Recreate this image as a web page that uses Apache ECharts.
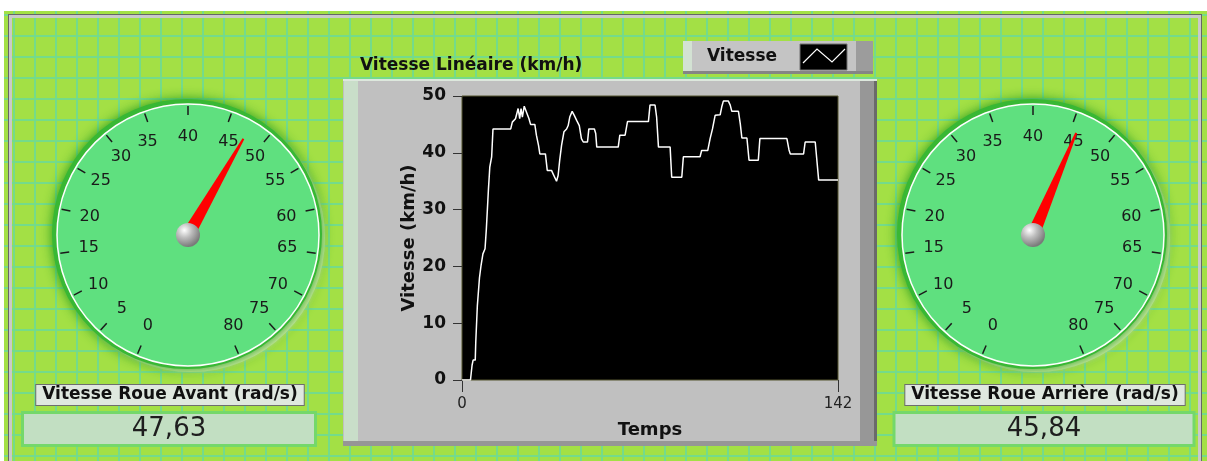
<!DOCTYPE html>
<html>
<head>
<meta charset="utf-8">
<title>Vitesse</title>
<script src="https://cdn.jsdelivr.net/npm/echarts@6/dist/echarts.min.js"></script>
<style>
    body {margin: 0; background: #fff;}
    #panel {
        position: absolute; left: 4px; top: 11px; width: 1203px; height: 450px;
        background-color: #a3e045;
        background-image: linear-gradient(to right, #74db8a 2px, transparent 2px),
                          linear-gradient(to bottom, #74db8a 2px, transparent 2px);
        background-size: 21px 21px;
        background-position: 9px 3px;
    }
    #frame {
        position: absolute; left: 8px; top: 14px; width: 1192px; height: 460px;
        border: 1px solid #666;
        box-shadow: inset 3px 3px 0 #c9c9c9, inset -3px 0 0 #c9c9c9;
    }
    #main {position: absolute; left: 0; top: 0; width: 1207px; height: 461px;}
</style>
</head>
<body>
<div id="panel"></div>
<div id="frame"></div>
<div id="main"></div>
<script type="text/javascript">
    // courbe vitesse linéaire
    var temps = [
        0, 3.2, 3.8, 4.2, 5.0, 5.2, 5.8, 6.6, 7.2, 7.9,
        8.7, 9.2, 10.0, 10.5, 11.2, 11.7, 18.4, 19.0, 20.2, 21.2,
        21.8, 22.3, 22.8, 23.5, 24.1, 25.3, 25.9, 27.5, 28.1, 28.9,
        29.4, 31.5, 32.2, 33.8, 34.4, 35.7, 36.3, 36.9, 37.6, 38.5,
        39.5, 40.1, 40.7, 41.6, 42.4, 43.3, 44.3, 45.1, 45.8, 47.4,
        47.9, 50.0, 50.5, 50.9, 59.0, 59.6, 61.6, 62.5, 70.4, 71.0,
        72.9, 73.5, 74.2, 78.6, 79.2, 83.0, 83.6, 89.9, 90.5, 92.8,
        93.7, 94.6, 95.6, 97.5, 98.1, 98.7, 100.6, 101.3, 101.9, 104.4,
        105.1, 105.7, 107.6, 108.4, 111.9, 112.5, 122.7, 123.5, 124.0, 129.0,
        129.6, 133.4, 134.7, 142
    ];
    var vitesse = [
        0, 0, 2.6, 3.5, 3.5, 6.7, 13.1, 18.0, 20.2, 22.2,
        23.1, 26.6, 33.7, 37.5, 39.3, 44.2, 44.2, 45.4, 46.0, 47.8,
        46.0, 47.8, 46.3, 48.2, 48.5, 46.0, 45.0, 45.0, 43.1, 41.3,
        39.8, 39.8, 36.9, 36.9, 36.3, 35.0, 36.0, 38.7, 41.3, 43.7,
        44.2, 44.8, 46.3, 47.3, 46.6, 45.7, 44.8, 42.5, 41.9, 41.9,
        44.2, 44.2, 43.4, 41.0, 41.0, 43.1, 43.1, 45.5, 45.5, 48.4,
        48.4, 46.3, 41.0, 41.0, 35.7, 35.7, 39.3, 39.3, 40.4, 40.4,
        42.5, 44.2, 46.6, 46.7, 48.1, 49.1, 49.1, 48.4, 47.3, 47.3,
        45.1, 42.6, 42.6, 38.7, 38.7, 42.5, 42.5, 40.5, 39.8, 39.8,
        41.9, 41.9, 35.2, 35.2
    ];
    // compteurs
    var nomsRoues = ['Vitesse Roue Avant (rad/s)', 'Vitesse Roue Arrière (rad/s)'];
    var valeursRoues = [47.63, 45.84];
    var echelleMin = 0, echelleMax = 80, echellePas = 5;

    var font = 'DejaVu Sans';
    var R = 131;
    var angleDebut = 247, angleFin = -67;
    var centres = [[188, 235], [1033, 235]];
    var titreOffset = [[-18, 160], [12, 160]];
    var valeurOffset = [[-19, 194], [11, 194]];
    var valeurLargeur = [290, 297];

    var points = [];
    for (var i = 0; i < temps.length; i++) {
        points.push([temps[i], vitesse[i]]);
    }

    var chart = echarts.init(document.getElementById('main'));

    var graphics = [
        // cadre du graphe
        {type: 'rect', z: -10, shape: {x: 343, y: 79, width: 534, height: 367}, style: {fill: '#c0c0c0'}},
        {type: 'rect', z: -9, shape: {x: 343, y: 79, width: 534, height: 2}, style: {fill: '#dde8dd'}},
        {type: 'rect', z: -9, shape: {x: 344, y: 81, width: 14, height: 362}, style: {fill: '#c9dec9'}},
        {type: 'rect', z: -9, shape: {x: 860, y: 81, width: 17, height: 365}, style: {fill: '#979797'}},
        {type: 'rect', z: -9, shape: {x: 874, y: 81, width: 3, height: 365}, style: {fill: '#6a6a6a'}},
        {type: 'rect', z: -9, shape: {x: 343, y: 441, width: 534, height: 5}, style: {fill: '#969696'}},
        // légende
        {type: 'rect', z: -10, shape: {x: 683, y: 41, width: 190, height: 33}, style: {fill: '#c4c4c4'}},
        {type: 'rect', z: -9, shape: {x: 683, y: 41, width: 9, height: 31}, style: {fill: '#d3e2d3'}},
        {type: 'rect', z: -9, shape: {x: 856, y: 41, width: 17, height: 33}, style: {fill: '#9c9c9c'}},
        {type: 'rect', z: -9, shape: {x: 683, y: 71, width: 190, height: 3}, style: {fill: '#858585'}},
        {type: 'text', z: 5, x: 707, y: 57, style: {text: 'Vitesse', font: 'bold 17px "DejaVu Sans"', fill: '#111', verticalAlign: 'middle'}},
        {type: 'rect', z: 5, shape: {x: 800, y: 44, width: 47, height: 26}, style: {fill: '#000', stroke: '#707070', lineWidth: 1}},
        {type: 'polyline', z: 6, shape: {points: [[803, 63], [817, 49], [832, 62], [845, 49]]}, style: {stroke: '#fff', lineWidth: 1.2, fill: null}}
    ];
    centres.forEach(function (c) {
        graphics.push({type: 'circle', z: -8, shape: {cx: c[0] + 3, cy: c[1] + 3, r: R + 3},
            style: {fill: '#d6f0a8', shadowBlur: 4, shadowColor: 'rgba(230,240,180,0.8)'}});
        graphics.push({type: 'circle', z: -7, shape: {cx: c[0] - 1, cy: c[1] - 1, r: R + 4},
            style: {fill: '#38b834', shadowBlur: 12, shadowColor: 'rgba(30,150,30,0.95)'}});
        graphics.push({type: 'circle', z: -6, shape: {cx: c[0], cy: c[1], r: R},
            style: {fill: '#5fe07f', stroke: '#ffffff', lineWidth: 1.5}});
    });

    function jauge(k) {
        return {
            type: 'gauge',
            center: centres[k],
            radius: R,
            startAngle: angleDebut,
            endAngle: angleFin,
            min: echelleMin,
            max: echelleMax,
            splitNumber: (echelleMax - echelleMin) / echellePas,
            axisLine: {show: false, lineStyle: {width: 0}},
            axisTick: {show: false},
            splitLine: {show: true, distance: 2, length: 9, lineStyle: {color: '#1a1a1a', width: 1.5}},
            axisLabel: {show: false},
            pointer: {
                show: true, length: 111, width: 13,
                icon: 'path://M5.5,0 L7.5,0 L13,100 L0,100 Z',
                itemStyle: {color: '#ff0000'}
            },
            anchor: {
                show: true, showAbove: true, size: 24,
                itemStyle: {
                    color: new echarts.graphic.RadialGradient(0.35, 0.3, 0.7, [
                        {offset: 0, color: '#ffffff'},
                        {offset: 0.45, color: '#bdbdbd'},
                        {offset: 1, color: '#7a7a7a'}
                    ])
                }
            },
            title: {
                show: true,
                offsetCenter: titreOffset[k],
                fontFamily: font, fontWeight: 'bold', fontSize: 17, color: '#111',
                backgroundColor: '#dfe8df', borderColor: '#6e6e6e', borderWidth: 1,
                padding: [2, 6, 1, 6]
            },
            detail: {
                show: true,
                offsetCenter: valeurOffset[k],
                width: valeurLargeur[k], height: 30,
                lineHeight: 30, padding: 0,
                fontFamily: font, fontSize: 26, color: '#1e1e1e', fontWeight: 'normal',
                backgroundColor: '#c2dfc2', borderColor: '#74d86a', borderWidth: 3,
                formatter: function (v) { return v.toFixed(2).replace('.', ','); }
            },
            data: [{name: nomsRoues[k], value: valeursRoues[k]}]
        };
    }

    // graduations du cadran : axe angulaire sur tout le tour, seules 0..80 sont écrites
    var sweep = angleDebut - angleFin;
    function graduation(k) {
        return {
            polarIndex: k,
            type: 'value',
            startAngle: angleDebut,
            clockwise: true,
            min: echelleMin,
            max: (echelleMax - echelleMin) * 360 / sweep,
            interval: echellePas,
            axisLine: {show: false},
            axisTick: {show: false},
            splitLine: {show: false},
            axisLabel: {
                margin: 8, color: '#1a1a1a', fontSize: 16, fontFamily: font,
                formatter: function (v) { return v <= echelleMax ? String(v) : ''; }
            }
        };
    }

    var option = {
        animation: false,
        title: {
            text: 'Vitesse Linéaire (km/h)',
            left: 355, top: 52,
            textStyle: {fontFamily: font, fontWeight: 'bold', fontSize: 17, color: '#111'}
        },
        graphic: graphics,
        polar: [
            {center: centres[0], radius: 82},
            {center: centres[1], radius: 82}
        ],
        angleAxis: [graduation(0), graduation(1)],
        radiusAxis: [
            {polarIndex: 0, show: false},
            {polarIndex: 1, show: false}
        ],
        grid: {
            left: 462, top: 96, width: 376, height: 284,
            show: true, backgroundColor: '#000', borderColor: '#55552f', borderWidth: 1
        },
        xAxis: {
            type: 'value',
            min: 0, max: 142, interval: 142,
            name: 'Temps', nameLocation: 'middle', nameGap: 41,
            nameTextStyle: {fontFamily: font, fontWeight: 'bold', fontSize: 18, color: '#111'},
            axisLine: {show: false},
            axisTick: {show: true, length: 12, lineStyle: {color: '#333'}},
            axisLabel: {margin: 17, fontFamily: font, fontSize: 15, color: '#222'},
            splitLine: {show: false}
        },
        yAxis: {
            type: 'value',
            min: 0, max: 50, interval: 10,
            name: 'Vitesse (km/h)', nameLocation: 'middle', nameGap: 44,
            nameTextStyle: {fontFamily: font, fontWeight: 'bold', fontSize: 18, color: '#111'},
            axisLine: {show: false},
            axisTick: {show: true, length: 9, lineStyle: {color: '#333'}},
            axisLabel: {margin: 16, fontFamily: font, fontWeight: 'bold', fontSize: 17, color: '#111'},
            splitLine: {show: false}
        },
        series: [
            {
                name: 'Vitesse',
                type: 'line',
                showSymbol: false,
                lineStyle: {color: '#ffffff', width: 1.5},
                data: points
            },
            jauge(0),
            jauge(1)
        ]
    };
    chart.setOption(option);
</script>
</body>
</html>
